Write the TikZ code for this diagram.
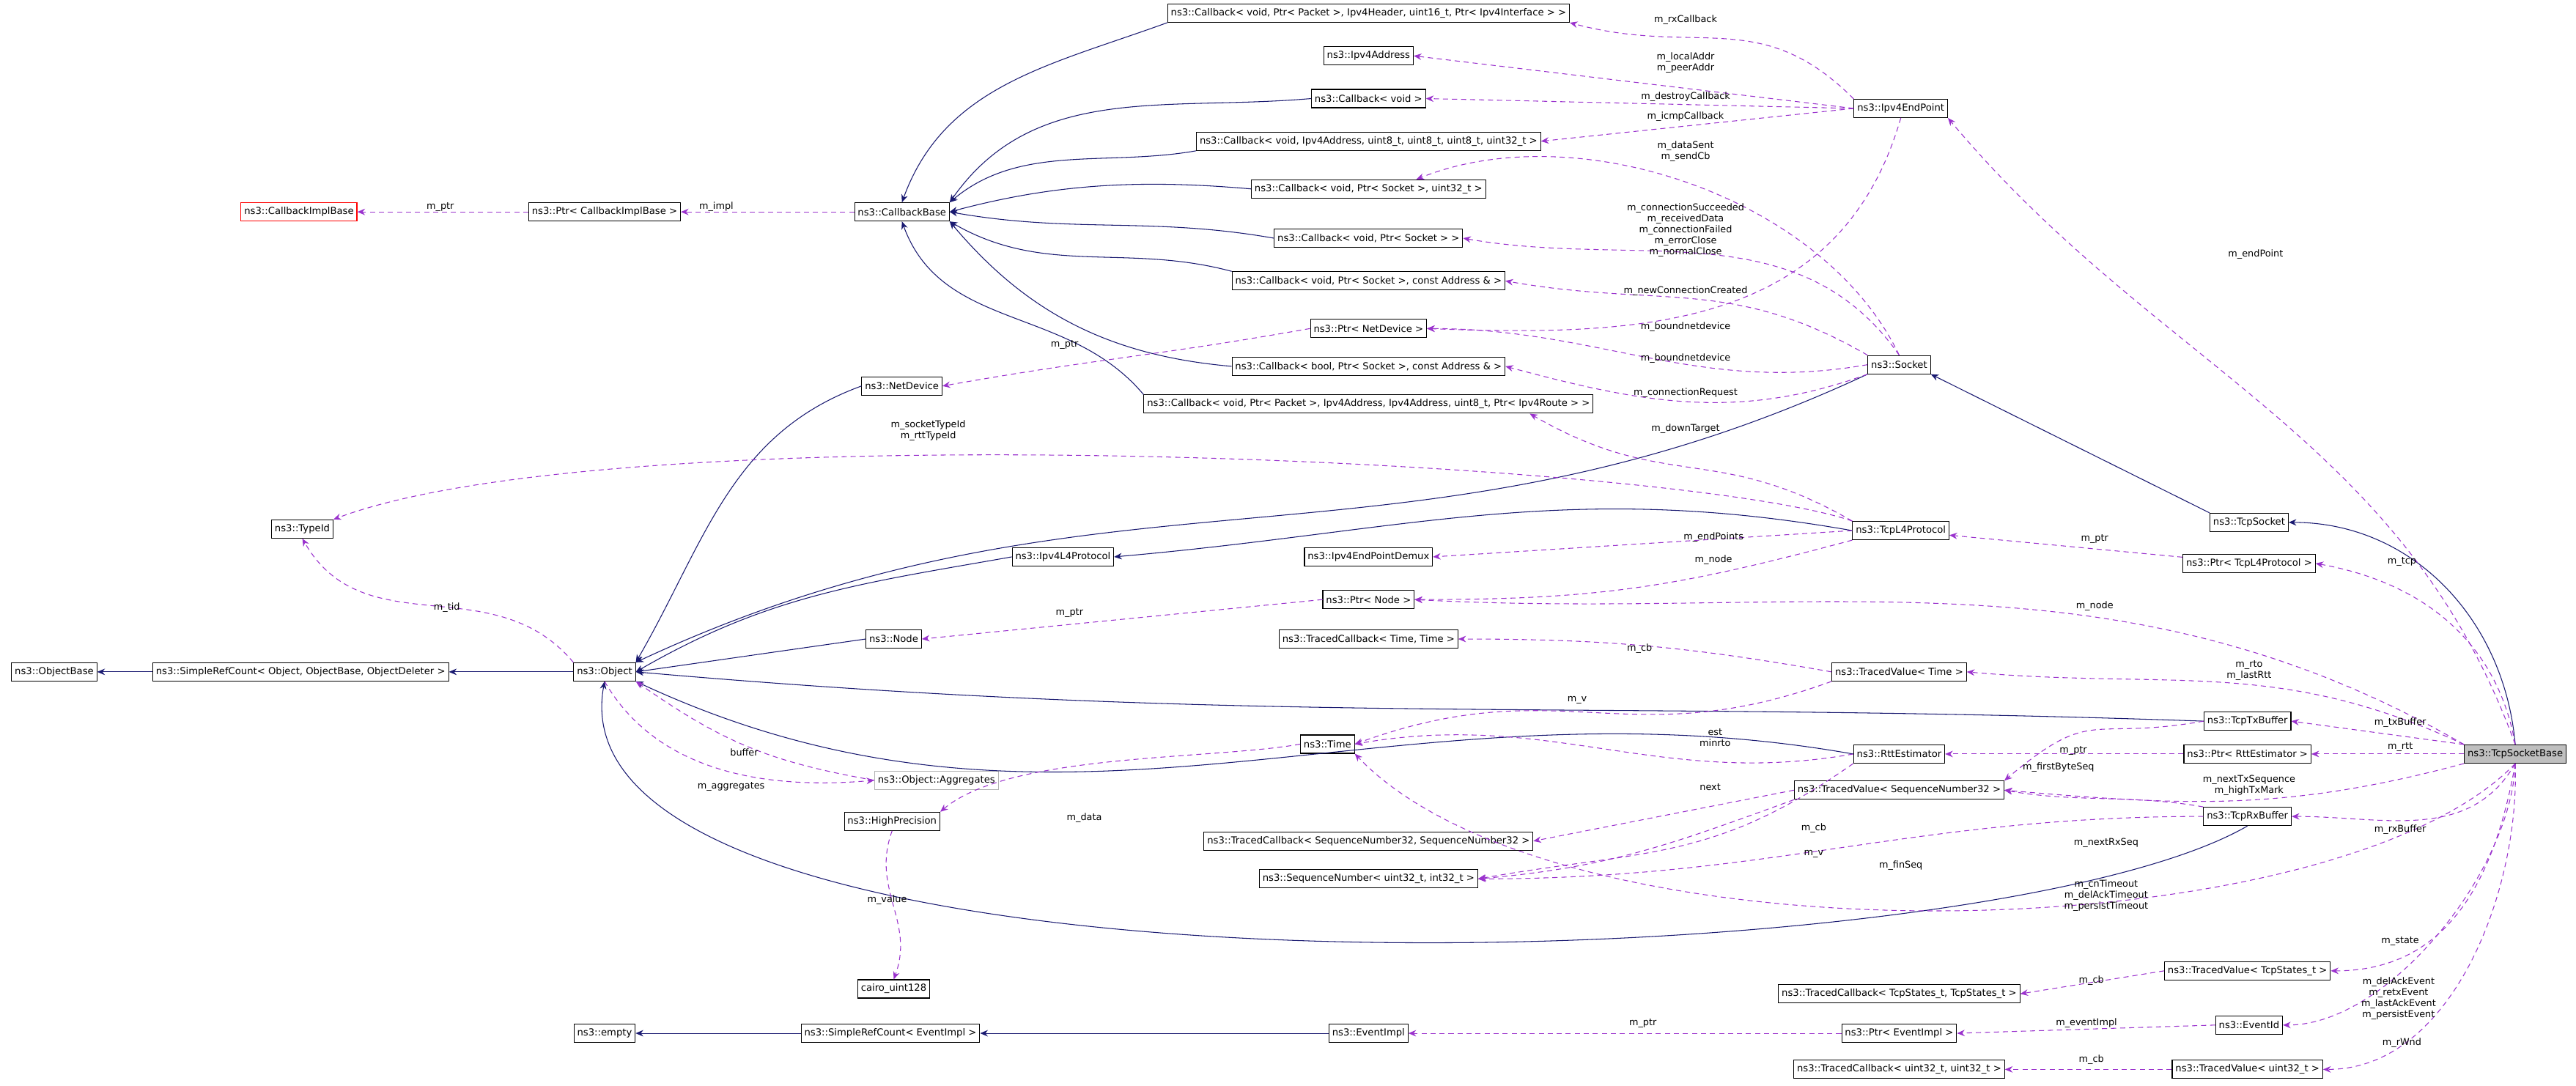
\documentclass[tikz,border=0pt]{standalone}
\usepackage{fontspec}
\setmainfont{DejaVu Sans}
\usetikzlibrary{arrows.meta}
\definecolor{dep}{HTML}{9A32CD}
\definecolor{navy}{HTML}{191970}

\begin{document}
\begin{tikzpicture}[
    x=0.04483cm, y=-0.04483cm,
    cls/.style={draw, line width=0.6pt, fill=white, minimum height=0.5cm, inner xsep=2.5pt, inner ysep=1pt, font=\fontsize{7.5}{8}\selectfont},
    lbl/.style={align=center, inner sep=0pt, font=\fontsize{7.3}{8.5}\selectfont},
    inh/.style={draw=navy, line width=0.6pt, -{Stealth[length=6pt,width=5pt]}},
    use/.style={draw=dep, line width=0.6pt, dashed, dash pattern=on 4pt off 3pt, -{Stealth[length=6pt,width=5pt]}}
]
\useasboundingbox (0,0) rectangle (1568,661);

% Nodes
\node[cls] (cbRx) at (833,8) {ns3::Callback< void, Ptr< Packet >, Ipv4Header, uint16\_t, Ptr< Ipv4Interface > >};
\node[cls] (ipv4Addr) at (833,34) {ns3::Ipv4Address};
\node[cls] (cbVoid) at (833,60) {ns3::Callback< void >};
\node[cls] (cbIcmp) at (833,86) {ns3::Callback< void, Ipv4Address, uint8\_t, uint8\_t, uint8\_t, uint32\_t >};
\node[cls] (cbSent) at (833,115) {ns3::Callback< void, Ptr< Socket >, uint32\_t >};
\node[cls] (cbSock) at (833,145) {ns3::Callback< void, Ptr< Socket > >};
\node[cls] (cbAddr) at (833,171) {ns3::Callback< void, Ptr< Socket >, const Address \& >};
\node[cls] (ptrDev) at (833,200) {ns3::Ptr< NetDevice >};
\node[cls] (cbBool) at (833,223) {ns3::Callback< bool, Ptr< Socket >, const Address \& >};
\node[cls] (cbDown) at (833,246) {ns3::Callback< void, Ptr< Packet >, Ipv4Address, Ipv4Address, uint8\_t, Ptr< Ipv4Route > >};
\node[cls, draw=red] (cbImpl) at (182,129) {ns3::CallbackImplBase};
\node[cls] (ptrImpl) at (368,129) {ns3::Ptr< CallbackImplBase >};
\node[cls] (cbBase) at (549,129) {ns3::CallbackBase};
\node[cls] (netDev) at (549,235) {ns3::NetDevice};
\node[cls] (endPoint) at (1157,66) {ns3::Ipv4EndPoint};
\node[cls] (socket) at (1156,222) {ns3::Socket};
\node[cls] (tcpSocket) at (1369,318) {ns3::TcpSocket};
\node[cls] (tcpL4) at (1157,323) {ns3::TcpL4Protocol};
\node[cls] (typeId) at (184,322) {ns3::TypeId};
\node[cls] (demux) at (833,339) {ns3::Ipv4EndPointDemux};
\node[cls] (l4prot) at (647,339) {ns3::Ipv4L4Protocol};
\node[cls] (ptrTcpL4) at (1369,343) {ns3::Ptr< TcpL4Protocol >};
\node[cls] (ptrNode) at (833,365) {ns3::Ptr< Node >};
\node[cls] (node) at (544,389) {ns3::Node};
\node[cls] (tcbTime) at (833,389) {ns3::TracedCallback< Time, Time >};
\node[cls] (objBase) at (33,409) {ns3::ObjectBase};
\node[cls] (srcObj) at (183,409) {ns3::SimpleRefCount< Object, ObjectBase, ObjectDeleter >};
\node[cls] (object) at (368,409) {ns3::Object};
\node[cls] (tvTime) at (1156,409) {ns3::TracedValue< Time >};
\node[cls] (txBuf) at (1368,439) {ns3::TcpTxBuffer};
\node[cls, fill=black!25] (tcpBase) at (1531,459) {ns3::TcpSocketBase};
\node[cls] (ptrRtt) at (1368,459) {ns3::Ptr< RttEstimator >};
\node[cls] (rtt) at (1156,459) {ns3::RttEstimator};
\node[cls, draw=black!30] (aggr) at (570,475) {ns3::Object::Aggregates};
\node[cls] (time) at (808,453) {ns3::Time};
\node[cls] (tvSeq) at (1156,481) {ns3::TracedValue< SequenceNumber32 >};
\node[cls] (tcbSeq) at (833,512) {ns3::TracedCallback< SequenceNumber32, SequenceNumber32 >};
\node[cls] (hp) at (543,500) {ns3::HighPrecision};
\node[cls] (rxBuf) at (1368,497) {ns3::TcpRxBuffer};
\node[cls] (seqNum) at (833,535) {ns3::SequenceNumber< uint32\_t, int32\_t >};
\node[cls] (cairo) at (544,602) {cairo\_uint128};
\node[cls] (tvState) at (1368,591) {ns3::TracedValue< TcpStates\_t >};
\node[cls] (tcbState) at (1156,605) {ns3::TracedCallback< TcpStates\_t, TcpStates\_t >};
\node[cls] (empty) at (368,629) {ns3::empty};
\node[cls] (srcEv) at (542,629) {ns3::SimpleRefCount< EventImpl >};
\node[cls] (evImpl) at (833,629) {ns3::EventImpl};
\node[cls] (ptrEv) at (1156,629) {ns3::Ptr< EventImpl >};
\node[cls] (evId) at (1369,624) {ns3::EventId};
\node[cls] (tcbU32) at (1156,651) {ns3::TracedCallback< uint32\_t, uint32\_t >};
\node[cls] (tvU32) at (1368,651) {ns3::TracedValue< uint32\_t >};

% Inheritance
\draw[inh] (cbRx.south west) .. controls +(200:3.4cm) and +(70:3.4cm) .. (cbBase.north);
\draw[inh] (cbVoid.west) .. controls +(185:4cm) and +(55:4cm) .. (cbBase.north east);
\draw[inh] (cbIcmp.south west) .. controls +(190:2.5cm) and +(40:2.5cm) .. (cbBase.north east);
\draw[inh] (cbSent.west) .. controls +(175:3cm) and +(15:3cm) .. (cbBase.east);
\draw[inh] (cbSock.west) .. controls +(170:3.4cm) and +(-10:3.4cm) .. (cbBase.east);
\draw[inh] (cbAddr.north west) .. controls +(165:3cm) and +(-30:3cm) .. (cbBase.south east);
\draw[inh] (cbBool.west) .. controls +(175:3.3cm) and +(-50:3.3cm) .. (cbBase.south east);
\draw[inh] (cbDown.north west) .. controls +(130:3.2cm) and +(-70:3.2cm) .. (cbBase.south);
\draw[inh] (netDev.west) .. controls +(200:3.8cm) and +(60:3.8cm) .. (object.north east);
\draw[inh] (l4prot.west) .. controls +(190:4.2cm) and +(30:4.2cm) .. (object.east);
\draw[inh] (node.west) -- (object.east);
\draw[inh] (socket.south west) .. controls +(205:14cm) and +(25:14cm) .. (object.north east);
\draw[inh] (tcpL4.west) .. controls +(170:8cm) and +(5:8cm) .. (l4prot.east);
\draw[inh] (txBuf.west) .. controls +(178:17cm) and +(-5:17cm) .. (object.east);
\draw[inh] (rtt.west) .. controls +(170:13cm) and +(-25:13cm) .. (object.south east);
\draw[inh] (rxBuf.south) .. controls (1200,600) and (330,620) .. (object.south);
\draw[inh] (tcpSocket.north west) -- (socket.south east);
\draw[inh] (tcpBase.north) .. controls +(95:3.4cm) and +(0:3.4cm) .. (tcpSocket.east);
\draw[inh] (srcObj) -- (objBase);
\draw[inh] (object) -- (srcObj);
\draw[inh] (srcEv) -- (empty);
\draw[inh] (evImpl) -- (srcEv);

% Members
\draw[use] (endPoint.north west) .. controls +(135:3.6cm) and +(-15:3.6cm) .. (cbRx.south east);
\draw[use] (endPoint.west) -- (ipv4Addr.east);
\draw[use] (endPoint.west) -- (cbVoid.east);
\draw[use] (endPoint.west) -- (cbIcmp.east);
\draw[use] (endPoint.south) .. controls (1120,200) and (1000,205) .. (ptrDev.east);
\draw[use] (socket.north) .. controls (1110,120) and (960,70) .. ([xshift=-1.9cm]cbSent.north east);
\draw[use] (socket.north) .. controls +(125:4.8cm) and +(-10:4.8cm) .. (cbSock.east);
\draw[use] (socket.north west) .. controls +(150:4.3cm) and +(-10:4.3cm) .. (cbAddr.east);
\draw[use] (socket.west) .. controls +(190:4.7cm) and +(0:4.7cm) .. (ptrDev.east);
\draw[use] (socket.south west) .. controls +(200:3.8cm) and +(-15:3.8cm) .. (cbBool.east);
\draw[use] (tcpL4.north west) .. controls +(150:4.3cm) and +(-30:4.3cm) .. ([xshift=4.4cm]cbDown.south);
\draw[use] (tcpL4.north west) .. controls (1020,280) and (380,250) .. (typeId.north east);
\draw[use] (tcpL4.west) -- (demux.east);
\draw[use] (tcpL4.south west) .. controls +(195:5cm) and +(0:5cm) .. (ptrNode.east);
\draw[use] (ptrImpl) -- (cbImpl);
\draw[use] (cbBase) -- (ptrImpl);
\draw[use] (ptrDev.west) .. controls +(190:4.5cm) and +(10:4.5cm) .. (netDev.east);
\draw[use] (object.north west) .. controls +(130:3.4cm) and +(-60:3.4cm) .. (typeId.south);
\draw[use] (ptrNode.west) -- (node.east);
\draw[use] (aggr.west) .. controls +(170:2.9cm) and +(-35:2.9cm) .. (object.south east);
\draw[use] (object.south) .. controls +(-60:2.9cm) and +(185:2.9cm) .. (aggr.west);
\draw[use] (time.west) .. controls +(190:2.5cm) and +(40:2.5cm) .. (hp.north east);
\draw[use] (hp.south) .. controls +(-110:1.7cm) and +(70:1.7cm) .. (cairo.north);
\draw[use] (tvTime.west) .. controls +(170:4cm) and +(0:4cm) .. (tcbTime.east);
\draw[use] (tvTime.south west) .. controls +(200:6cm) and +(20:6cm) .. (time.east);
\draw[use] (rtt.west) .. controls +(190:5.4cm) and +(10:5.4cm) .. (time.east);
\draw[use] (rtt.south west) .. controls +(215:4.7cm) and +(10:4.7cm) .. (seqNum.east);
\draw[use] (txBuf.west) .. controls +(190:3.2cm) and +(40:3.2cm) .. (tvSeq.north east);
\draw[use] (rxBuf.north west) .. controls +(170:2cm) and +(-10:2cm) .. (tvSeq.east);
\draw[use] (rxBuf.west) .. controls +(180:8cm) and +(0:8cm) .. (seqNum.east);
\draw[use] (tvSeq.west) -- (tcbSeq.east);
\draw[use] (tvSeq.south west) .. controls +(200:3.6cm) and +(5:3.6cm) .. (seqNum.east);
\draw[use] (ptrTcpL4) -- (tcpL4);
\draw[use] (ptrRtt) -- (rtt);
\draw[use] (tcpBase.north) .. controls +(110:9cm) and +(-50:9cm) .. (endPoint.south east);
\draw[use] (tcpBase.north) .. controls +(100:2.9cm) and +(-10:2.9cm) .. (ptrTcpL4.east);
\draw[use] (tcpBase.north west) .. controls +(150:11cm) and +(-3:11cm) .. (ptrNode.east);
\draw[use] (tcpBase.north west) .. controls +(155:5.6cm) and +(-5:5.6cm) .. (tvTime.east);
\draw[use] (tcpBase.north west) -- (txBuf.east);
\draw[use] (tcpBase) -- (ptrRtt);
\draw[use] (tcpBase.south west) .. controls +(195:5cm) and +(-5:5cm) .. (tvSeq.east);
\draw[use] (tcpBase.south) .. controls +(-120:2.5cm) and +(0:2.5cm) .. (rxBuf.east);
\draw[use] (tcpBase.south) .. controls (1420,580) and (950,590) .. (time.south east);
\draw[use] (tcpBase.south) .. controls +(-100:3.2cm) and +(0:3.2cm) .. (tvState.east);
\draw[use] (tcpBase.south) .. controls +(-92:2.9cm) and +(0:2.9cm) .. (evId.east);
\draw[use] (tcpBase.south) .. controls +(-88:3.5cm) and +(0:3.5cm) .. (tvU32.east);
\draw[use] (tvState.west) -- (tcbState.east);
\draw[use] (evId.west) -- (ptrEv.east);
\draw[use] (ptrEv) -- (evImpl);
\draw[use] (tvU32.west) -- (tcbU32.east);

% Labels
\node[lbl] (lRx) at (1026,12) {m\_rxCallback};
\node[lbl] (lAddr) at (1026,38) {m\_localAddr\\m\_peerAddr};
\node[lbl] (lDestroy) at (1026,59) {m\_destroyCallback};
\node[lbl] (lIcmp) at (1026,71) {m\_icmpCallback};
\node[lbl] (lSent) at (1026,92) {m\_dataSent\\m\_sendCb};
\node[lbl] (lConn) at (1026,140) {m\_connectionSucceeded\\m\_receivedData\\m\_connectionFailed\\m\_errorClose\\m\_normalClose};
\node[lbl] (lNew) at (1026,177) {m\_newConnectionCreated};
\node[lbl] (lDev1) at (1026,199) {m\_boundnetdevice};
\node[lbl] (lDev2) at (1026,218) {m\_boundnetdevice};
\node[lbl] (lReq) at (1026,239) {m\_connectionRequest};
\node[lbl] (lDown) at (1026,261) {m\_downTarget};
\node[lbl] (lImpl) at (436,126) {m\_impl};
\node[lbl] (lPtr1) at (268,126) {m\_ptr};
\node[lbl] (lPtr2) at (648,210) {m\_ptr};
\node[lbl] (lType) at (565,262) {m\_socketTypeId\\m\_rttTypeId};
\node[lbl] (lEndPts) at (1043,327) {m\_endPoints};
\node[lbl] (lNode1) at (1043,341) {m\_node};
\node[lbl] (lPtr3) at (1275,328) {m\_ptr};
\node[lbl] (lTid) at (272,370) {m\_tid};
\node[lbl] (lPtr4) at (651,373) {m\_ptr};
\node[lbl] (lNode2) at (1275,369) {m\_node};
\node[lbl] (lCb1) at (998,395) {m\_cb};
\node[lbl] (lRto) at (1369,408) {m\_rto\\m\_lastRtt};
\node[lbl] (lV1) at (960,426) {m\_v};
\node[lbl] (lTx) at (1461,440) {m\_txBuffer};
\node[lbl] (lRtt) at (1461,455) {m\_rtt};
\node[lbl] (lFirst) at (1253,467) {m\_firstByteSeq};
\node[lbl] (lNextTx) at (1369,478) {m\_nextTxSequence\\m\_highTxMark};
\node[lbl] (lRxB) at (1461,505) {m\_rxBuffer};
\node[lbl] (lState) at (1461,573) {m\_state};
\node[lbl] (lBuf) at (453,458) {buffer};
\node[lbl] (lAggr) at (445,479) {m\_aggregates};
\node[lbl] (lEst) at (1044,449) {est\\minrto};
\node[lbl] (lNext) at (1041,479) {next};
\node[lbl] (lPtr5) at (1262,457) {m\_ptr};
\node[lbl] (lData) at (660,498) {m\_data};
\node[lbl] (lCb2) at (1104,504) {m\_cb};
\node[lbl] (lV2) at (1104,520) {m\_v};
\node[lbl] (lNextRx) at (1282,513) {m\_nextRxSeq};
\node[lbl] (lFin) at (1157,527) {m\_finSeq};
\node[lbl] (lTimeout) at (1282,545) {m\_cnTimeout\\m\_delAckTimeout\\m\_persistTimeout};
\node[lbl] (lValue) at (540,548) {m\_value};
\node[lbl] (lCb3) at (1273,597) {m\_cb};
\node[lbl] (lEvents) at (1460,608) {m\_delAckEvent\\m\_retxEvent\\m\_lastAckEvent\\m\_persistEvent};
\node[lbl] (lPtr6) at (1000,623) {m\_ptr};
\node[lbl] (lEvImpl) at (1270,623) {m\_eventImpl};
\node[lbl] (lWnd) at (1462,635) {m\_rWnd};
\node[lbl] (lCb4) at (1273,645) {m\_cb};
\node[lbl] (lEndPt) at (1373,155) {m\_endPoint};
\node[lbl] (lTcp) at (1462,342) {m\_tcp};

\end{tikzpicture}
\end{document}
